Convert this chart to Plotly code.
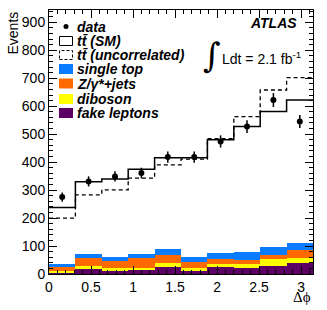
import numpy as np
import plotly.graph_objects as go

# ---- data ----
n_bins = 10
data_vals = [275, 331, 349, 361, 418, 418, 474, 527, 622, 545]
tt_sm = [238, 330, 340, 375, 416, 416, 480, 527, 581, 622]
tt_uncorr = [200, 283, 301, 343, 390, 411, 484, 563, 658, 702]
fake_leptons = [3, 18, 12, 15, 25, 12, 24, 21, 30, 39]
diboson = [9, 9, 9, 6, 14, 9, 13, 15, 24, 20]
zjets = [13, 32, 26, 36, 30, 22, 18, 15, 15, 28]
single_top = [11, 13, 14, 14, 20, 18, 20, 28, 27, 24]
x_ticks = [0, 0.5, 1, 1.5, 2, 2.5, 3]
x_tick_labels = ["0", "0.5", "1", "1.5", "2", "2.5", "3"]

edges = np.linspace(0, np.pi, n_bins + 1)
centers = 0.5 * (edges[:-1] + edges[1:])
width = edges[1] - edges[0]

FONT = "Liberation Sans"
colors = {
    "fake": "#5c0066",
    "dib": "#ffff00",
    "z": "#ff6a00",
    "st": "#0a7cff",
}

fig = go.Figure()
for vals, col in [(fake_leptons, colors["fake"]), (diboson, colors["dib"]),
                  (zjets, colors["z"]), (single_top, colors["st"])]:
    fig.add_trace(go.Bar(x=centers, y=vals, width=width, marker=dict(color=col, line=dict(width=0)),
                         showlegend=False))

def step(vals):
    return list(edges), list(vals) + [vals[-1]]

xs, ys = step(tt_uncorr)
fig.add_trace(go.Scatter(x=xs, y=ys, mode="lines", line=dict(color="black", width=1.3, dash="4px,3px", shape="hv"),
                         showlegend=False))
xs, ys = step(tt_sm)
fig.add_trace(go.Scatter(x=xs, y=ys, mode="lines", line=dict(color="black", width=1.5, shape="hv"),
                         showlegend=False))
fig.add_trace(go.Scatter(x=centers, y=data_vals, mode="markers",
                         marker=dict(color="black", size=6),
                         error_y=dict(type="data", array=np.sqrt(data_vals), color="black", thickness=1.5, width=0),
                         showlegend=False))

L, R, T, B = 49, 14, 10, 36
W, H = 327, 310
pw, ph = W - L - R, H - T - B

def px(x):
    return (x - L) / pw

def py(y):
    return (H - B - y) / ph

shapes = []
annotations = []
legend_rows = [
    ("data", 26.5, "dot", None),
    ("tt\u0304 (SM)", 41, "box", None),
    ("tt\u0304 (uncorrelated)", 55, "dash", None),
    ("single top", 69, "fill", colors["st"]),
    ("Z/\u03b3*+jets", 83.5, "fill", colors["z"]),
    ("diboson", 99, "fill", colors["dib"]),
    ("fake leptons", 113, "fill", colors["fake"]),
]
for text, yc, kind, col in legend_rows:
    if kind == "dot":
        shapes.append(dict(type="circle", xref="paper", yref="paper",
                           x0=px(63.5), x1=px(68.5), y0=py(yc + 2.5), y1=py(yc - 2.5),
                           fillcolor="black", line=dict(width=0)))
    elif kind == "box":
        shapes.append(dict(type="rect", xref="paper", yref="paper",
                           x0=px(59.5), x1=px(72.5), y0=py(yc + 4.5), y1=py(yc - 4.5),
                           line=dict(color="black", width=1)))
    elif kind == "dash":
        shapes.append(dict(type="rect", xref="paper", yref="paper",
                           x0=px(59.5), x1=px(72.5), y0=py(yc + 4.5), y1=py(yc - 4.5),
                           line=dict(color="black", width=1, dash="3px,2px")))
    else:
        shapes.append(dict(type="rect", xref="paper", yref="paper",
                           x0=px(59), x1=px(73), y0=py(yc + 5), y1=py(yc - 5),
                           fillcolor=col, line=dict(width=0)))
    annotations.append(dict(xref="paper", yref="paper", x=px(75), y=py(yc), xanchor="left", yanchor="middle",
                            text="<b><i>%s</i></b>" % text, showarrow=False,
                            font=dict(family=FONT, size=14, color="black")))

annotations.append(dict(xref="paper", yref="paper", x=px(299), y=py(23), xanchor="right", yanchor="middle",
                        text="<b><i>ATLAS</i></b>", showarrow=False, font=dict(family=FONT, size=14, color="black")))
annotations.append(dict(xref="paper", yref="paper", x=px(212), y=py(55), xanchor="center", yanchor="middle",
                        text="\u222b", showarrow=False, font=dict(family="DejaVu Serif", size=34, color="black")))
annotations.append(dict(xref="paper", yref="paper", x=px(220), y=py(58), xanchor="left", yanchor="middle",
                        text="Ldt = 2.1 fb<sup>-1</sup>", showarrow=False,
                        font=dict(family=FONT, size=14, color="black")))
annotations.append(dict(xref="paper", yref="paper", x=px(12), y=1, xanchor="center", yanchor="top",
                        text="Events", textangle=-90, showarrow=False,
                        font=dict(family=FONT, size=14, color="black")))
annotations.append(dict(xref="paper", yref="paper", x=px(313), y=py(297), xanchor="right", yanchor="middle",
                        text="\u0394\u03d5", showarrow=False,
                        font=dict(family="Liberation Serif", size=15, color="black")))

fig.update_layout(
    width=W, height=H, margin=dict(l=L, r=R, t=T, b=B),
    paper_bgcolor="white", plot_bgcolor="white",
    barmode="stack", bargap=0,
    shapes=shapes, annotations=annotations,
    font=dict(family=FONT, size=14, color="black"),
    xaxis=dict(range=[0, np.pi], tickvals=x_ticks, ticktext=x_tick_labels,
               ticks="inside", ticklen=8, tickcolor="black", tickwidth=1,
               showline=True, linecolor="black", linewidth=1, mirror="allticks",
               showgrid=False, zeroline=False,
               minor=dict(dtick=0.1, ticks="inside", ticklen=4, tickcolor="black", showgrid=False),
               tickfont=dict(family=FONT, size=14, color="black")),
    yaxis=dict(range=[0, 944], dtick=100, tick0=0,
               ticks="inside", ticklen=8, tickcolor="black", tickwidth=1,
               showline=True, linecolor="black", linewidth=1, mirror="allticks",
               showgrid=False, zeroline=False,
               minor=dict(dtick=20, ticks="inside", ticklen=4, tickcolor="black", showgrid=False),
               tickfont=dict(family=FONT, size=14, color="black")),
)

fig.write_html("out.html", config={"displayModeBar": False},
               post_script="document.body.style.margin='0';document.body.style.overflow='hidden';")
